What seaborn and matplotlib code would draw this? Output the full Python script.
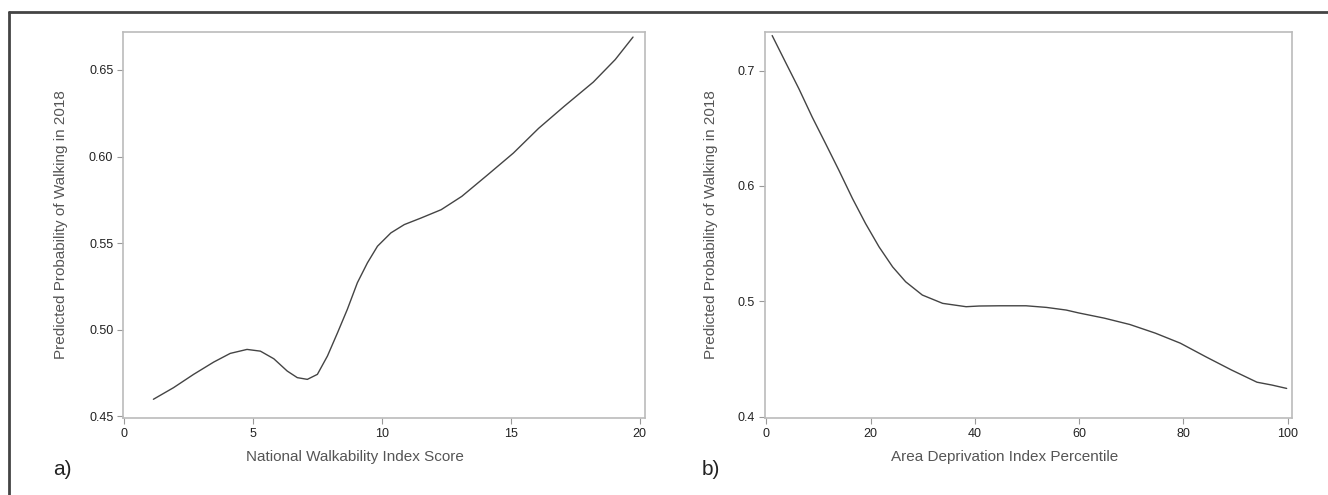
import pandas as pd
import matplotlib.pyplot as plt
import seaborn as sns
from matplotlib.lines import Line2D

# --- data ---
nwi_score = [1.14, 1.92, 2.70, 3.48, 4.12, 4.77, 5.29, 5.81, 6.33, 6.72, 7.11, 7.50, 7.89,
             8.28, 8.66, 9.05, 9.44, 9.83, 10.35, 10.87, 11.52, 12.30, 13.1, 14.1, 15.1,
             16.08, 17.07, 18.2, 19.05, 19.74]
nwi_prob = [0.4598, 0.4665, 0.4742, 0.4813, 0.4863, 0.4886, 0.4876, 0.4832, 0.4761, 0.4723,
            0.4713, 0.4742, 0.4848, 0.4982, 0.5117, 0.5271, 0.5386, 0.5482, 0.5559, 0.5607,
            0.5645, 0.5693, 0.577, 0.5894, 0.602, 0.6163, 0.629, 0.643, 0.656, 0.669]

adi_pct = [1.09, 3.65, 6.22, 8.78, 11.35, 13.9, 16.5, 19.0, 21.6, 24.2, 26.7, 29.9, 33.8,
           38.3, 40.8, 44.7, 49.8, 53.7, 57.5, 59.9, 64.8, 69.7, 74.6, 79.4, 84.3, 89.2,
           94.1, 97.0, 99.8]
adi_prob = [0.7303, 0.7072, 0.6842, 0.6596, 0.6366, 0.6135, 0.5891, 0.5675, 0.5472, 0.5299,
            0.5170, 0.5055, 0.4983, 0.4954, 0.4960, 0.4962, 0.4962, 0.4948, 0.4925, 0.490,
            0.4855, 0.480, 0.4725, 0.4638, 0.452, 0.4406, 0.430, 0.4275, 0.4246]

df_a = pd.DataFrame({"x": nwi_score, "y": nwi_prob})
df_b = pd.DataFrame({"x": adi_pct, "y": adi_prob})

sns.set_theme(style="white")
plt.rcParams["font.family"] = ["Liberation Sans", "DejaVu Sans"]

fig = plt.figure(figsize=(13.28, 4.95), dpi=100)
ax_a = fig.add_axes([0.0926, 0.1556, 0.393, 0.780])
ax_b = fig.add_axes([0.576, 0.1556, 0.3968, 0.780])

panels = [
    (ax_a, df_a, "National Walkability Index Score", (-0.04, 20.2), (0.449, 0.672),
     [0, 5, 10, 15, 20], [0.45, 0.50, 0.55, 0.60, 0.65], "{:.2f}", "a)", 0.040,
     (0.444, -0.083), (-0.105, 0.5)),
    (ax_b, df_b, "Area Deprivation Index Percentile", (-0.3, 100.8), (0.399, 0.7335),
     [0, 20, 40, 60, 80, 100], [0.4, 0.5, 0.6, 0.7], "{:.1f}", "b)", 0.5286,
     (0.455, -0.083), (-0.089, 0.5)),
]

for ax, d, xlab, xl, yl, xt, yt, fmt, tag, tag_x, xlc, ylc in panels:
    sns.lineplot(data=d, x="x", y="y", ax=ax, color="#444444", linewidth=1.0)
    ax.set_xlim(*xl)
    ax.set_ylim(*yl)
    ax.set_xticks(xt)
    ax.set_xticklabels([str(v) for v in xt])
    ax.set_yticks(yt)
    ax.set_yticklabels([fmt.format(v) for v in yt])
    ax.tick_params(axis="both", direction="out", length=4, width=0.8, color="#999999",
                   labelsize=9, labelcolor="#222222", pad=3, bottom=True, left=True)
    for sp in ax.spines.values():
        sp.set_color("#bbbbbb")
        sp.set_linewidth(1.2)
    ax.set_xlabel(xlab, fontsize=11, color="#555555")
    ax.set_ylabel("Predicted Probability of Walking in 2018", fontsize=11, color="#555555")
    ax.xaxis.set_label_coords(*xlc)
    ax.yaxis.set_label_coords(*ylc)
    fig.text(tag_x, 0.052, tag, fontsize=15, color="#222222", ha="left", va="center")

# outer frame (top and left edges visible)
fig.add_artist(Line2D([9 / 1328, 1.0], [1 - 12 / 495] * 2, color="#444444", linewidth=2))
fig.add_artist(Line2D([9 / 1328] * 2, [0.0, 1 - 12 / 495], color="#444444", linewidth=2))

fig.savefig("out.png", dpi=100)
